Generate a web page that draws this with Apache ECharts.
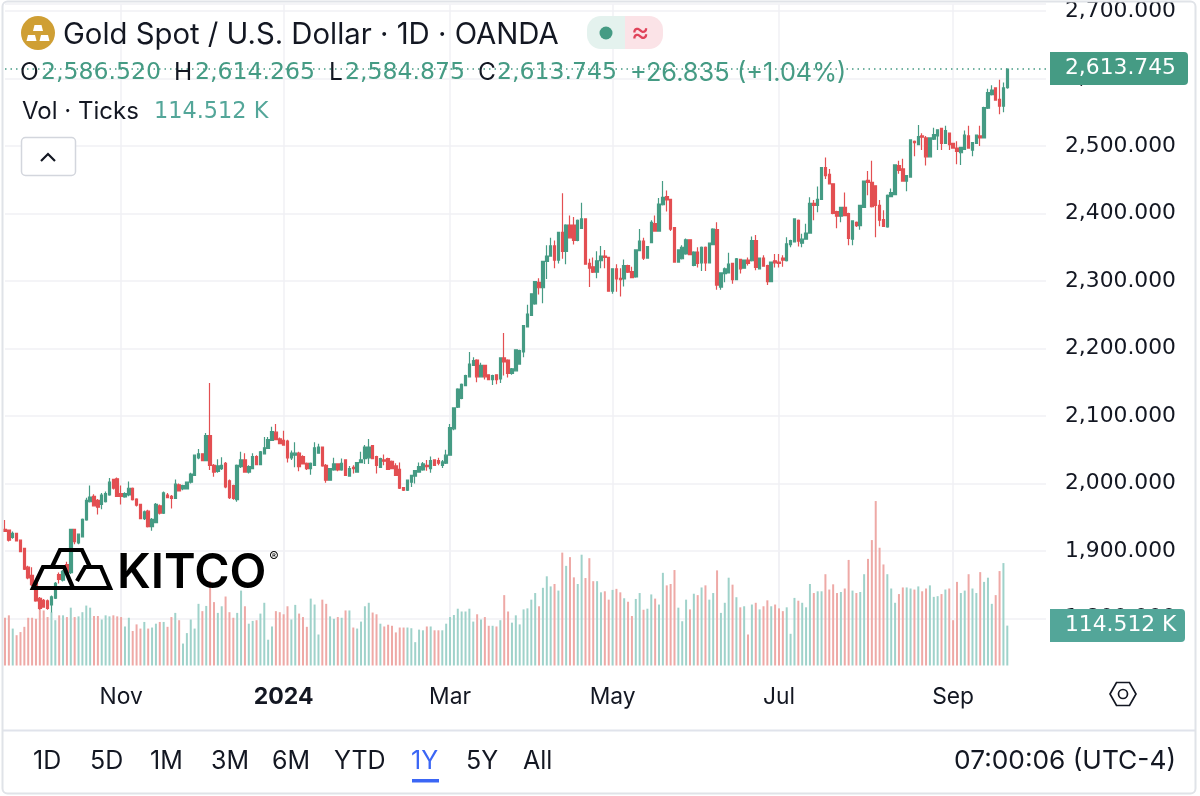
<!DOCTYPE html>
<html><head><meta charset="utf-8">
<style>html,body{margin:0;padding:0;background:#fff}#c{width:1200px;height:796px}</style>
<script src="https://cdn.jsdelivr.net/npm/echarts@6/dist/echarts.min.js"></script>
</head><body><div id="c"></div>
<script>
const opens=[1932,1931,1920,1926,1916,1904,1876,1864,1852,1830,1827,1826,1820,1830,1865,1857,1880,1868,1932,1912,1921,1946,1973,1981,1975,1969,1973,1983,2006,2007,1985,1980,1983,1993,1977,1969,1948,1959,1936,1942,1967,1956,1983,1981,1978,1998,1992,1992,2002,2012,2038,2044,2034,2071,2027,2018,2022,2030,2004,1997,1976,2025,2035,2017,2022,2040,2028,2044,2052,2064,2076,2066,2064,2063,2038,2042,2045,2040,2030,2022,2027,2045,2054,2027,2005,2020,2029,
2020,2035,2011,2024,2017,2031,2037,2038,2056,2040,2024,2035,2037,2033,2026,2021,1994,1990,2002,2011,2017,2020,2027,2022,2035,2034,2027,2030,2042,2081,2113,2126,2145,2158,2175,2183,2158,2175,2161,2154,2161,2155,2186,2183,2163,2167,2177,2195,2232,2249,2266,2298,2290,2329,2337,2352,2331,2372,2344,2383,2383,2360,2378,2392,2326,2321,2313,2330,2337,2335,2285,2318,2304,2303,2323,2314,2306,2345,2359,2334,2357,2385,2374,2413,2425,2421,2379,2328,
2333,2340,2361,2323,2343,2327,2350,2327,2354,2376,2291,2311,2312,2326,2302,2332,2319,2331,2330,2360,2318,2334,2323,2299,2330,2328,2334,2330,2354,2358,2390,2356,2362,2371,2415,2412,2421,2468,2458,2444,2403,2396,2409,2400,2362,2387,2382,2409,2449,2446,2441,2412,2391,2380,2425,2428,2471,2466,2448,2454,2507,2502,2515,2512,2484,2510,2515,2526,2504,2519,2504,2497,2490,2495,2515,2494,2504,2515,2512,2556,2576,2586,2569,2559,2586.52];
const closes=[1929,1916,1926,1915,1899,1873,1860,1850,1826,1815,1817,1815,1832,1852,1858,1870,1868,1932,1914,1925,1947,1975,1980,1967,1965,1983,1985,2002,1993,1981,1981,1985,1993,1976,1968,1948,1958,1936,1947,1969,1956,1986,1979,1978,1999,1989,1997,2002,2014,2042,2044,2034,2071,2027,2017,2026,2027,1995,1979,1978,2027,2035,2017,2025,2040,2028,2047,2053,2065,2077,2065,2059,2057,2038,2045,2045,2025,2029,2022,2030,2053,2054,2026,2005,2022,2029,2020,
2030,2012,2022,2022,2031,2035,2054,2054,2037,2027,2037,2033,2021,2022,2012,1993,1990,2005,2012,2019,2025,2029,2025,2034,2027,2030,2032,2042,2083,2112,2140,2147,2160,2177,2182,2158,2175,2158,2154,2160,2154,2186,2180,2163,2170,2198,2197,2234,2251,2281,2299,2290,2329,2337,2352,2331,2372,2344,2383,2364,2360,2390,2392,2325,2319,2313,2330,2337,2335,2285,2318,2303,2302,2323,2313,2305,2346,2359,2334,2351,2387,2374,2414,2424,2420,2377,2328,2346,
2350,2361,2339,2343,2326,2350,2327,2356,2377,2294,2312,2318,2325,2302,2333,2318,2331,2326,2360,2320,2334,2322,2299,2328,2327,2326,2331,2355,2360,2392,2359,2362,2371,2415,2412,2421,2468,2456,2444,2400,2396,2409,2397,2363,2389,2382,2412,2448,2446,2410,2412,2390,2381,2427,2431,2472,2464,2448,2456,2509,2505,2514,2513,2484,2512,2517,2524,2504,2523,2502,2497,2492,2498,2516,2497,2505,2516,2512,2557,2579,2583,2568,2559,2586,2613.745];
const lows=[1928,1914,1918,1914,1898,1872,1858,1848,1825,1813,1816,1813,1809,1829,1852,1855,1866,1866,1910,1910,1920,1945,1972,1966,1954,1962,1972,1982,1991,1980,1969,1979,1981,1975,1966,1947,1946,1935,1930,1941,1954,1955,1978,1963,1977,1988,1990,1991,2000,2011,2036,2033,2033,2020,2010,2016,2020,1993,1977,1976,1973,2023,2016,2015,2021,2027,2027,2043,2051,2063,2064,2058,2056,2031,2035,2024,2018,2028,2020,2013,2026,2044,2025,2001,2004,2019,2018,
2019,2011,2010,2015,2016,2030,2029,2029,2036,2015,2023,2027,2020,2021,2011,1992,1989,1989,1995,2000,2016,2019,2019,2016,2026,2027,2023,2029,2041,2079,2112,2125,2144,2157,2174,2150,2157,2154,2153,2146,2147,2149,2160,2157,2161,2166,2176,2187,2231,2248,2265,2280,2267,2303,2336,2319,2326,2333,2325,2363,2354,2359,2377,2324,2291,2312,2304,2319,2319,2284,2281,2284,2277,2292,2312,2304,2305,2344,2331,2333,2356,2373,2373,2412,2403,2374,2327,2327,
2332,2339,2338,2322,2320,2315,2315,2326,2353,2287,2287,2298,2311,2296,2301,2311,2318,2323,2329,2316,2317,2321,2294,2298,2320,2320,2321,2329,2350,2357,2351,2350,2361,2370,2390,2402,2420,2451,2443,2399,2378,2387,2396,2353,2353,2380,2376,2408,2427,2409,2365,2381,2380,2379,2424,2427,2459,2447,2433,2453,2485,2501,2494,2471,2483,2509,2494,2494,2503,2494,2496,2473,2472,2494,2496,2485,2503,2500,2511,2555,2575,2567,2547,2550,2584.875];
const highs=[1946,1932,1929,1927,1917,1905,1878,1876,1857,1832,1829,1828,1834,1854,1868,1872,1884,1932,1933,1926,1948,1979,1997,1984,1977,1986,1988,2008,2007,2009,1997,1987,2003,1994,1978,1970,1960,1961,1949,1971,1969,1988,1986,1983,2006,2000,1998,2003,2016,2043,2051,2045,2075,2149,2029,2036,2039,2032,2006,1998,2028,2047,2045,2027,2045,2042,2048,2069,2069,2084,2088,2068,2078,2065,2049,2061,2047,2042,2031,2031,2061,2059,2055,2029,2023,2038,2030,
2037,2036,2026,2027,2032,2047,2057,2066,2057,2041,2038,2043,2038,2034,2030,2031,1995,2006,2013,2020,2031,2032,2035,2040,2036,2038,2035,2050,2088,2113,2141,2148,2161,2195,2187,2184,2179,2176,2162,2161,2162,2187,2223,2184,2171,2199,2198,2235,2265,2282,2300,2304,2330,2353,2364,2360,2373,2430,2384,2397,2395,2391,2416,2393,2333,2335,2344,2352,2346,2336,2319,2325,2319,2332,2324,2321,2347,2377,2364,2352,2390,2397,2423,2448,2434,2422,2380,2347,
2353,2363,2362,2344,2350,2351,2351,2357,2378,2387,2313,2320,2342,2327,2334,2333,2332,2335,2366,2368,2335,2338,2324,2329,2340,2340,2338,2365,2361,2393,2391,2370,2385,2424,2420,2440,2469,2483,2466,2445,2404,2410,2431,2401,2390,2388,2413,2449,2463,2478,2442,2420,2405,2428,2437,2473,2478,2481,2457,2510,2508,2531,2519,2515,2513,2527,2525,2527,2530,2520,2505,2507,2499,2523,2530,2506,2517,2530,2558,2585,2590,2587,2598,2594,2614.265];
const volumesK=[137,144,106,87,96,111,137,137,134,163,158,139,153,130,144,144,139,166,139,141,153,172,166,142,142,132,144,141,144,141,139,112,137,99,118,106,125,106,109,120,125,125,111,139,151,130,63,93,132,106,177,156,171,242,182,151,170,198,153,137,151,215,170,120,128,130,149,180,74,112,156,153,147,170,132,174,149,139,111,192,175,89,189,177,141,134,139,
137,158,158,109,106,126,170,180,152,147,120,112,117,114,95,109,109,109,107,67,103,101,112,112,101,101,101,120,139,145,163,155,155,163,126,147,132,139,114,114,112,130,202,155,123,144,118,161,164,189,208,170,223,256,227,234,215,324,286,311,253,234,318,251,308,242,242,210,213,189,217,220,210,193,183,142,191,208,160,163,204,192,175,266,230,234,274,166,
127,189,161,206,202,224,230,189,208,273,151,180,252,232,196,167,170,89,175,180,161,170,187,170,175,164,156,167,91,194,186,180,167,234,208,213,213,262,218,233,208,211,221,303,215,208,211,262,306,360,472,338,290,262,221,180,205,224,224,221,218,227,213,221,230,197,199,205,218,221,130,240,208,215,262,221,208,268,240,252,177,202,271,294,114.512];
const priceTicks=[1800,1900,2000,2100,2200,2300,2400,2500,2600,2700];
const monthTickIndex=[30,72,115,157,200,245];
const monthTickText=['Nov','{b|2024}','Mar','May','Jul','Sep'];
const rangeButtons=['1D','5D','1M','3M','6M','YTD','1Y','5Y','All'];
const rangeButtonX=[33,90,150,211,272,334,411,466,523];
const ohlcParts=[['O',20,1],['2,586.520',41,0],['H',174,1],['2,614.265',195,0],['L',329,1],['2,584.875',345,0],['C',478,1],['2,613.745',497,0]];

const UP='#459b84',DN='#e34f52',VUP='#9fd2ca',VDN='#eea9a6',INK='#131722',GRID='#f0f1f4';
const FF='Inter',NF='"DejaVu Sans"';
const cats=Array.from({length:270},(_,i)=>String(i));
const candleData=opens.map((o,i)=>[o,closes[i],lows[i],highs[i]]);
const volData=volumesK.map((v,i)=>({value:v,itemStyle:{color:closes[i]>=opens[i]?VUP:VDN}}));
const isTick=i=>monthTickIndex.includes(i);
const fmt=v=>priceTicks.includes(v)?v.toLocaleString('en-US',{minimumFractionDigits:3,maximumFractionDigits:3}):'';
const txt=(text,x,y,size,fill,extra,fam)=>({type:'text',x,y,z:50,style:Object.assign({text,font:size+'px '+(fam||FF),fill,verticalAlign:'middle',align:'left'},extra||{})});
const g=[];
g.push({type:'circle',z:50,shape:{cx:38,cy:33,r:17},style:{fill:'#cf9f34'}});
[[33,25,10],[26.5,35,10],[39.5,35,10]].forEach(b=>g.push({type:'polygon',z:51,shape:{points:[[b[0]+1.5,b[1]],[b[0]+b[2]-1.5,b[1]],[b[0]+b[2],b[1]+6],[b[0],b[1]+6]]},style:{fill:'#fff'}}));
g.push(txt('Gold Spot / U.S. Dollar · 1D · OANDA',63,35,29.3,INK));
g.push({type:'rect',z:50,shape:{x:587,y:16,width:40,height:33,r:[14,0,0,14]},style:{fill:'#e4f2ee'}});
g.push({type:'rect',z:50,shape:{x:625,y:16,width:38,height:33,r:[0,14,14,0]},style:{fill:'#fbe3e7'}});
g.push({type:'circle',z:51,shape:{cx:606,cy:33,r:6.5},style:{fill:UP}});
g.push(txt('≈',631,33,28,'#e0435a'));
ohlcParts.forEach(p=>g.push(p[2]?txt(p[0],p[1],73,24.5,INK):txt(p[0],p[1],73,23.6,UP,null,NF)));
g.push(txt('+26.835',630,73,25.3,UP));
g.push(txt('(+1.04%)',737,73,25.3,UP));
g.push(txt('Vol · Ticks',22,112,24,INK));
g.push(txt('114.512 K',154,112,22.4,'#53a699',null,NF));
g.push({type:'rect',z:50,shape:{x:21.5,y:137.5,width:54,height:38,r:4},style:{fill:'#fff',stroke:'#d3d6dd',lineWidth:1.5}});
g.push({type:'polyline',z:51,shape:{points:[[41,161],[48,154],[55,161]]},style:{stroke:INK,lineWidth:2.2,fill:null}});
const LK={stroke:'#000',lineWidth:4.2,fill:null,lineJoin:'miter'};
g.push({type:'polyline',z:60,shape:{points:[[52,567],[60,550],[82,550],[90,567]]},style:LK});
g.push({type:'polygon',z:60,shape:{points:[[33,588],[43,567],[64,567],[73,588]]},style:LK});
g.push({type:'polyline',z:60,shape:{points:[[77,581],[85,567],[101,567],[110,588],[68,588]]},style:LK});
g.push({type:'text',z:60,x:117,y:574,style:{text:'KITCO',font:'600 48px '+FF,fill:'#000',verticalAlign:'middle'}});
g.push({type:'text',z:60,x:274,y:558,style:{text:'®',font:'14px '+FF,fill:'#000',verticalAlign:'middle',align:'center'}});
g.push({type:'rect',z:50,shape:{x:1050,y:52,width:138,height:33,r:[0,4,4,0]},style:{fill:UP}});
g.push(txt('2,613.745',1065,68,21.8,'#fff',null,NF));
g.push({type:'rect',z:50,shape:{x:1050,y:609,width:135,height:33,r:[0,4,4,0]},style:{fill:'#53a699'}});
g.push(txt('114.512 K',1065,625,21.8,'#fff',null,NF));
g.push({type:'polygon',z:50,shape:{points:[[1110,694],[1116.5,682.5],[1129.5,682.5],[1136,694],[1129.5,705.5],[1116.5,705.5]]},style:{stroke:INK,lineWidth:1.7,fill:null}});
g.push({type:'circle',z:50,shape:{cx:1123,cy:694,r:4.5},style:{stroke:INK,lineWidth:1.7,fill:null}});
g.push({type:'line',z:50,shape:{x1:3,y1:730.5,x2:1195,y2:730.5},style:{stroke:'#e0e3eb',lineWidth:2}});
rangeButtons.forEach((b,i)=>g.push(txt(b,rangeButtonX[i],761,25,b==='1Y'?'#3b66f5':INK)));
g.push({type:'rect',z:50,shape:{x:412,y:779,width:27,height:3.5},style:{fill:'#3b66f5'}});
g.push(txt('07:00:06 (UTC-4)',1176,761,26.3,INK,{align:'right'}));
g.push({type:'rect',z:70,shape:{x:2.5,y:1.5,width:1193,height:792,r:5},style:{fill:null,stroke:'#e0e3e8',lineWidth:2}});

const chart=echarts.init(document.getElementById('c'),null,{width:1200,height:796});
chart.setOption({
 animation:false,backgroundColor:'#fff',
 grid:[{left:5,top:3,width:1041,height:615.5},{left:5,top:500,width:1041,height:165.5}],
 xAxis:[
  {type:'category',gridIndex:0,data:cats,boundaryGap:false,axisLine:{show:false},axisTick:{show:false},axisLabel:{show:false},
   splitLine:{show:true,interval:i=>isTick(i),lineStyle:{color:GRID,width:1.5}}},
  {type:'category',gridIndex:1,data:cats,boundaryGap:false,axisLine:{show:false},axisTick:{show:false},
   axisLabel:{show:true,interval:i=>isTick(i),margin:20,fontFamily:FF,fontSize:22.8,color:INK,
     formatter:(v,i)=>{const k=monthTickIndex.indexOf(+v);return k<0?'':monthTickText[k];},
     rich:{b:{fontFamily:FF,fontSize:23,fontWeight:700,color:INK}}},
   splitLine:{show:true,interval:i=>isTick(i),lineStyle:{color:GRID,width:1.5}}}
 ],
 yAxis:[
  {type:'value',gridIndex:0,position:'right',min:1800,max:2710,interval:100,scale:true,axisLine:{show:false},axisTick:{show:false},
   axisLabel:{margin:19,fontFamily:NF,fontSize:21.8,color:INK,formatter:fmt,showMinLabel:true,showMaxLabel:false},
   splitLine:{show:true,lineStyle:{color:GRID,width:1.5}}},
  {type:'value',gridIndex:1,min:0,max:475,show:false,splitLine:{show:false}}
 ],
 series:[
  {type:'bar',xAxisIndex:1,yAxisIndex:1,data:volData,barWidth:2,z:2,silent:true},
  {type:'candlestick',xAxisIndex:0,yAxisIndex:0,data:candleData,barWidth:3,clip:false,z:3,silent:true,
   itemStyle:{color:UP,color0:DN,borderColor:UP,borderColor0:DN,borderWidth:1.2},
   markLine:{silent:true,symbol:'none',label:{show:false},animation:false,
     data:[{yAxis:2613.745}],lineStyle:{color:UP,type:[1.5,4],width:1.5}}}
 ],
 graphic:g
});
</script></body></html>
